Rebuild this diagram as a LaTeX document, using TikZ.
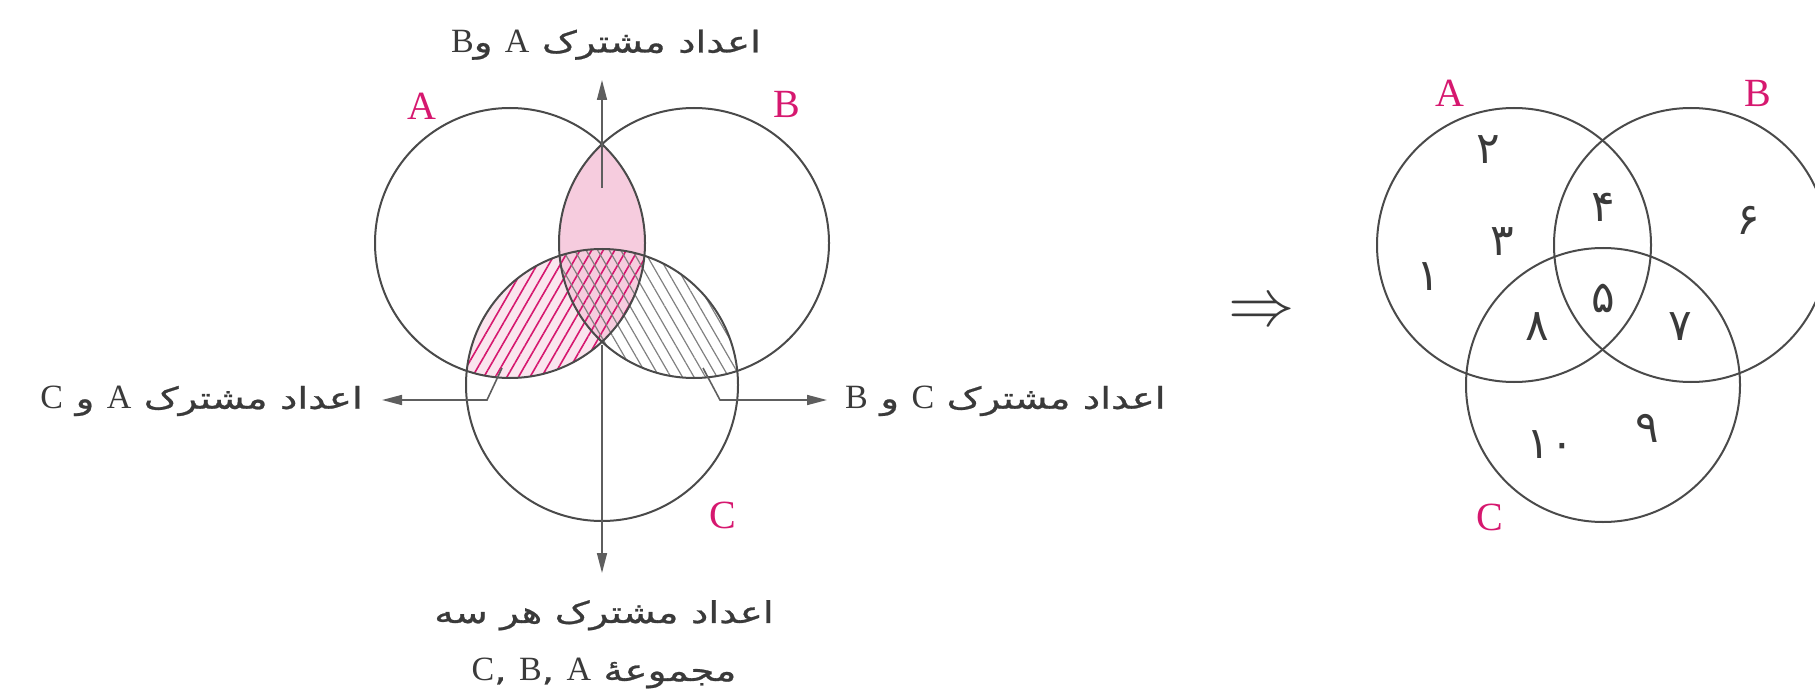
\documentclass[tikz,border=0pt]{standalone}
\usepackage{fontspec}
\setmainfont{Liberation Serif}
\newfontfamily\arabicfont[Script=Arabic,FakeStretch=1.3,FakeBold=0.8]{DejaVu Sans}
\newfontfamily\digitfont[Script=Arabic]{DejaVu Sans}
\usepackage{xcolor}
\usepackage{graphicx}
\usepackage{tikz}
\usetikzlibrary{arrows.meta,patterns.meta,positioning}
\TeXXeTstate=1

\definecolor{setpink}{HTML}{D6186F}
\definecolor{lenspink}{HTML}{F6CCDE}
\definecolor{linegray}{HTML}{4A4A4A}
\definecolor{arrowgray}{HTML}{5E5E5E}
\definecolor{textgray}{HTML}{3A3A3A}

\newcommand{\fa}[1]{{\arabicfont\beginR #1\endR}}
\newcommand{\setname}[1]{{\rmfamily\fontsize{34}{34}\selectfont #1}}

% circles of the left diagram
\newcommand{\circA}{(510,243) circle[radius=135]}
\newcommand{\circB}{(694,243) circle[radius=135]}
\newcommand{\circC}{(602,385) circle[radius=136]}

\begin{document}
\begin{tikzpicture}[
  x=1pt, y=-1pt,
  setline/.style={draw=linegray, line width=2pt},
  setlabel/.style={text=setpink, font=\fontsize{40}{40}\selectfont, inner sep=0pt},
  falabel/.style={text=textgray, font=\arabicfont\fontsize{30}{58}\selectfont, align=center},
  num/.style={text=textgray, font=\digitfont\fontsize{44}{44}\selectfont, inner sep=0pt},
  arrow/.style={-{Triangle[length=20pt,width=10pt]}, draw=arrowgray, line width=1.6pt},
  pinkhatch/.style={pattern={Lines[angle=60,distance=10pt,line width=1.6pt]}, pattern color=setpink},
  grayhatch/.style={pattern={Lines[angle=120,distance=10pt,line width=1.2pt]}, pattern color=gray}
]
\useasboundingbox (0,0) rectangle (1815,695);

% left diagram: shaded parts
\begin{scope}
  \clip \circA;
  \fill[lenspink!50] \circC;
  \fill[lenspink] \circB;
  \path[pinkhatch] \circC;
\end{scope}
\begin{scope}
  \clip \circB;
  \path[grayhatch] \circC;
\end{scope}
\draw[setline] \circA;
\draw[setline] \circB;
\draw[setline] \circC;

\node[setlabel] (labA) at (422,106) {A};
\node[setlabel] (labB) at (787,104) {B};
\node[setlabel] (labC) at (723,515) {C};

\node[falabel, anchor=south, inner ysep=20pt] (topLbl) at (606,80)
  {\fa{اعداد مشترک \setname{A} و\setname{B}}};
\node[falabel, anchor=east, inner xsep=19pt] (acLbl) at (382,401)
  {\fa{اعداد مشترک \setname{A} و \setname{C}}};
\node[falabel, anchor=west, inner xsep=18pt] (bcLbl) at (827,401)
  {\fa{اعداد مشترک \setname{C} و \setname{B}}};
\node[falabel, anchor=north, inner ysep=27pt] (botLbl) at (604,573)
  {\fa{اعداد مشترک هر سه}\\\fa{مجموعهٔ \setname{A} ,\setname{B} ,\setname{C}}};

\coordinate (abIn) at (602,188);
\coordinate (abcIn) at (602,345);
\coordinate (acIn) at (502,368);
\coordinate (acKnee) at (487,400);
\coordinate (bcIn) at (703,368);
\coordinate (bcKnee) at (720,400);

\draw[arrow] (abIn) -- (abIn |- topLbl.south);
\draw[arrow] (abcIn) -- (abcIn |- botLbl.north);
\draw[arrow] (acIn) -- (acKnee) -- (acKnee -| acLbl.east);
\draw[arrow] (bcIn) -- (bcKnee) -- (bcKnee -| bcLbl.west);

\node[text=textgray, font=\huge] (implies) at (1262,313) {\scalebox{3.2}{$\Rightarrow$}};

% right diagram
\draw[setline] (1514,245) circle[radius=137];
\draw[setline] (1691,245) circle[radius=137];
\draw[setline] (1603,385) circle[radius=137];

\node[setlabel] (labA2) at (1450,93) {A};
\node[setlabel] (labB2) at (1758,93) {B};
\node[setlabel] (labC2) at (1490,517) {C};

\node[num] (n1) at (1428,277) {۱};
\node[num] (n2) at (1488,150) {۲};
\node[num] (n3) at (1502,242) {۳};
\node[num] (n4) at (1603,207) {۴};
\node[num] (n5) at (1603,298) {۵};
\node[num] (n6) at (1748,220) {۶};
\node[num] (n7) at (1680,327) {۷};
\node[num] (n8) at (1537,327) {۸};
\node[num] (n9) at (1647,428) {۹};
\node[num] (n10) at (1550,445) {۱۰};
\end{tikzpicture}
\end{document}
